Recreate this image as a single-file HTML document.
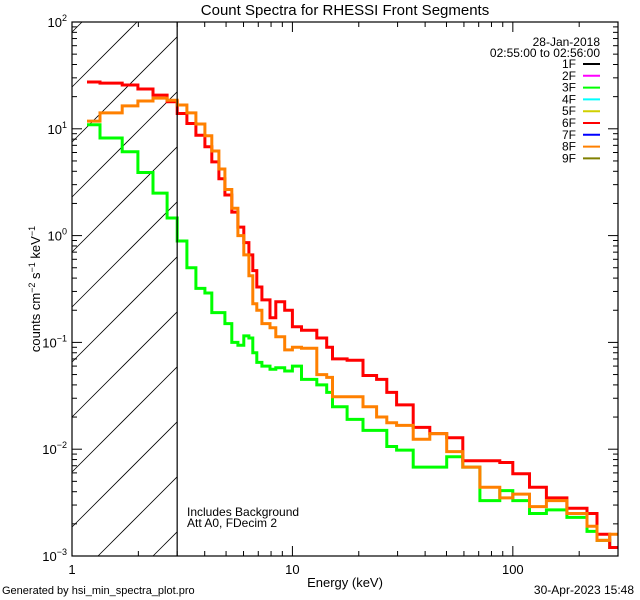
<!DOCTYPE html>
<html><head><meta charset="utf-8"><style>
html,body{margin:0;padding:0;background:#fff;width:640px;height:600px;overflow:hidden;}
svg{display:block;}
svg text{font-family:"Liberation Sans",sans-serif;fill:#000;}
</style></head><body>
<svg id="chart" width="640" height="600" viewBox="0 0 640 600" xmlns="http://www.w3.org/2000/svg">
<defs><clipPath id="plotclip"><rect x="72" y="22" width="546" height="534"/></clipPath></defs>
<rect width="640" height="600" fill="#fff"/>
<text x="345" y="15" font-size="15" text-anchor="middle">Count Spectra for RHESSI Front Segments</text>
<g id="hatch"></g>
<g id="series" clip-path="url(#plotclip)"></g>
<g id="axes"></g>
<g id="legend"></g>
<text x="187" y="516" font-size="12">Includes Background</text>
<text x="187" y="527" font-size="12">Att A0, FDecim 2</text>
<text x="345" y="587" font-size="13" text-anchor="middle">Energy (keV)</text>
<text x="40" y="289" font-size="13" text-anchor="middle" transform="rotate(-90 40 289)">counts cm<tspan dy="-5" font-size="9">−2</tspan><tspan dy="5"> s</tspan><tspan dy="-5" font-size="9">−1</tspan><tspan dy="5"> keV</tspan><tspan dy="-5" font-size="9">−1</tspan></text>
<text x="2" y="594" font-size="11">Generated by hsi_min_spectra_plot.pro</text>
<text x="634" y="594" font-size="12" text-anchor="end">30-Apr-2023 15:48</text>
</svg>
<script>
const edges = [1.17,1.34,1.69,1.99,2.33,2.70,3.0,3.32,3.65,4.01,4.31,4.64,4.94,5.31,5.66,6.02,6.35,6.61,6.89,7.27,7.91,8.41,9.23,10.0,11.0,12.9,14.3,15.2,17.7,20.9,24.1,26.8,29.7,35.3,42.0,50.1,59.3,70.9,87.3,100,119,142,176,217,241,275,300];
const seg6F = [27.4,26.8,25.7,23.6,20.7,17.9,13.9,11.2,8.7,6.8,4.9,3.4,2.4,1.66,1.2,0.86,0.66,0.47,0.33,0.25,0.17,0.24,0.2,0.14,0.13,0.11,0.09,0.07,0.068,0.049,0.045,0.034,0.026,0.016,0.014,0.0128,0.0078,0.0078,0.0075,0.0059,0.0044,0.0035,0.0028,0.0025,0.0016,0.0012];
const seg8F = [11.8,14.1,16.4,18.2,19.4,18.5,16.7,14.1,11.1,8.6,6.2,4.2,2.7,1.8,1.0,0.66,0.42,0.23,0.2,0.15,0.137,0.113,0.085,0.09,0.088,0.05,0.047,0.031,0.031,0.025,0.020,0.0177,0.0167,0.0124,0.0140,0.0095,0.0068,0.0044,0.0035,0.0038,0.0029,0.0033,0.0025,0.0019,0.0014,0.0016];
const seg3F = [10.9,8.2,6.1,3.9,2.5,1.46,0.89,0.5,0.32,0.29,0.19,0.19,0.15,0.1,0.094,0.115,0.11,0.08,0.065,0.06,0.056,0.058,0.054,0.06,0.045,0.04,0.034,0.025,0.019,0.015,0.015,0.0106,0.0098,0.0068,0.0068,0.0085,0.0068,0.0033,0.0041,0.0033,0.0025,0.0027,0.0023,0.0017,0.0014,0.0012];
const legendLabels = ["1F","2F","3F","4F","5F","6F","7F","8F","9F"];
const legendColors = ["#000000","#ff00ff","#00ff00","#00ffff","#d0d000","#ff0000","#0000ff","#ff8000","#808000"];
const yTickExps = [2,1,0,-1,-2,-3];
const xTickVals = [1,10,100];

const NS="http://www.w3.org/2000/svg";
const X0=72,X1=618,Y0=22,Y1=556;
const xmin=0,xmax=Math.log10(300);
function xs(e){return X0+(Math.log10(e)-xmin)/(xmax-xmin)*(X1-X0);}
function ys(v){return Y0+(2-Math.log10(v))/5*(Y1-Y0);}
function mk(tag,attrs,parent){const el=document.createElementNS(NS,tag);for(const k in attrs)el.setAttribute(k,attrs[k]);parent.appendChild(el);return el;}

const hatch=document.getElementById('hatch');
const HX=xs(3);
for(let b=32-55*3;b<Y1+(HX-X0)+55;b+=55){
  const xa=Math.max(X0,X0+b-Y1), xb=Math.min(HX,X0+b-Y0);
  if(xa>=xb)continue;
  const l=mk('line',{x1:xa,y1:b-(xa-X0),x2:xb,y2:b-(xb-X0),stroke:'#000','stroke-width':0.8},hatch);
  
  
}
const vl=mk('line',{x1:HX,y1:Y0,x2:HX,y2:Y1,stroke:'#000','stroke-width':1.2},document.getElementById('axes'));



const sg=document.getElementById('series');
function drawSeries(vals,color,name){
  let d='';
  for(let i=0;i<vals.length;i++){
    const xa=xs(edges[i]),xb=xs(edges[i+1]),y=ys(vals[i]);
    d+=(i===0?'M':'L')+xa.toFixed(1)+','+y.toFixed(1)+'L'+xb.toFixed(1)+','+y.toFixed(1);
  }
  const p=mk('path',{d:d,fill:'none',stroke:color,'stroke-width':3,'stroke-linejoin':'miter'},sg);
  
  
}
drawSeries(seg3F,'#00ff00','series-3f');
drawSeries(seg6F,'#ff0000','series-6f');
drawSeries(seg8F,'#ff8000','series-8f');

const ax=document.getElementById('axes');
const box=mk('rect',{x:X0,y:Y0,width:X1-X0,height:Y1-Y0,fill:'none',stroke:'#000','stroke-width':1.2},ax);


for(let e=-3;e<=2;e++){
  for(let m=1;m<10;m++){
    if(e===2&&m>1)break;
    const y=ys(m*Math.pow(10,e));const L=m===1?10:5;
    mk('line',{x1:X0,y1:y,x2:X0+L,y2:y,stroke:'#000'},ax);
    mk('line',{x1:X1,y1:y,x2:X1-L,y2:y,stroke:'#000'},ax);
  }
}
yTickExps.forEach(e=>{
  const y=ys(Math.pow(10,e));
  const t=mk('text',{x:X0-5,y:y+5,'font-size':13,'text-anchor':'end'},ax);
  
  
  t.innerHTML='10<tspan dy="-6" font-size="9">'+(e<0?'−'+(-e):e)+'</tspan>';
});
for(let e=0;e<=2;e++){
  for(let m=1;m<10;m++){
    const v=m*Math.pow(10,e); if(v>300)break;
    const x=xs(v);const L=m===1?10:5;
    mk('line',{x1:x,y1:Y1,x2:x,y2:Y1-L,stroke:'#000'},ax);
    mk('line',{x1:x,y1:Y0,x2:x,y2:Y0+L,stroke:'#000'},ax);
  }
}
xTickVals.forEach(v=>{
  const t=mk('text',{x:xs(v),y:Y1+18,'font-size':13,'text-anchor':'middle'},ax);
  
  
  t.textContent=String(v);
});

const lg=document.getElementById('legend');
const d1=mk('text',{x:600,y:46,'font-size':12,'text-anchor':'end'},lg);


d1.textContent='28-Jan-2018';
const d2=mk('text',{x:600,y:57,'font-size':12,'text-anchor':'end'},lg);


d2.textContent='02:55:00 to 02:56:00';
legendLabels.forEach((lab,i)=>{
  const y=64+i*11.8;
  const t=mk('text',{x:576,y:y+4,'font-size':12,'text-anchor':'end'},lg);
  
  
  t.textContent=lab;
  const l=mk('line',{x1:583,y1:y,x2:600,y2:y,stroke:legendColors[i],'stroke-width':2},lg);
  
  
});
</script>
</body></html>
